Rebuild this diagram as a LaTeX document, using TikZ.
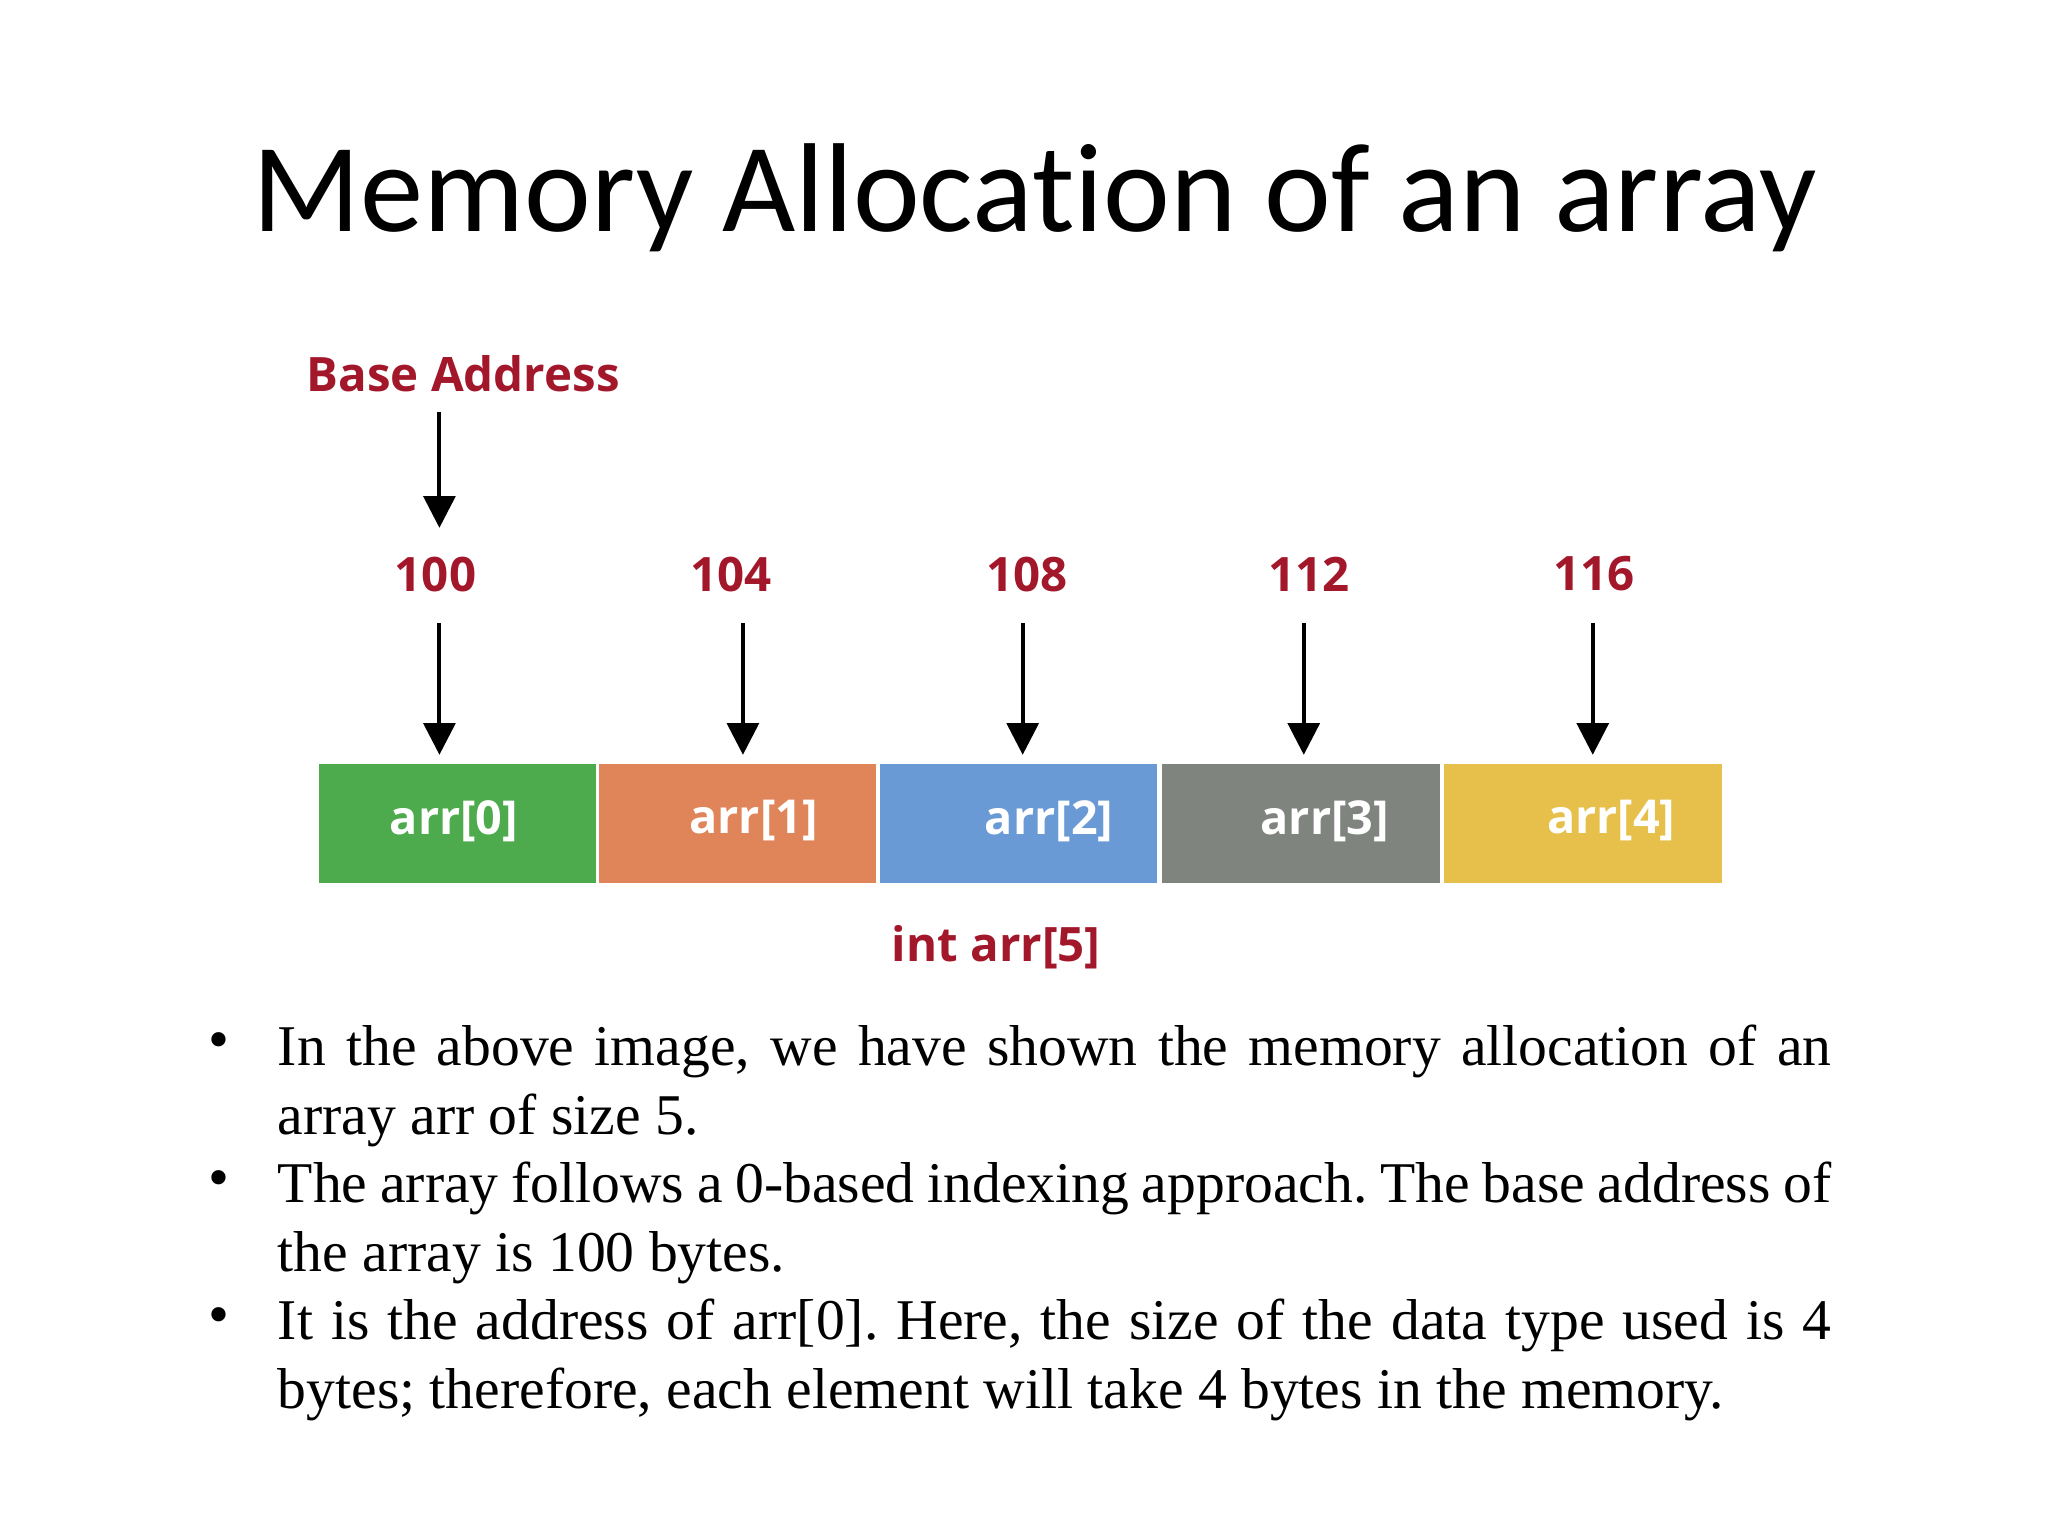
\documentclass[tikz,border=0pt]{standalone}
\usepackage{fontspec}
\setmainfont{Liberation Serif}
\newfontfamily\titlefont[Ligatures=NoCommon]{Carlito}
\newfontfamily\labfont{Open Sans}
\usetikzlibrary{arrows.meta}
\definecolor{dred}{HTML}{A3172B}
\definecolor{cgreen}{HTML}{4DAA4D}
\definecolor{corange}{HTML}{E0845A}
\definecolor{cblue}{HTML}{6A9AD6}
\definecolor{cgrey}{HTML}{80847F}
\definecolor{cyellow}{HTML}{E6C04A}
\frenchspacing
\hyphenpenalty=10000
\exhyphenpenalty=10000
\begin{document}
\begin{tikzpicture}[x=0.0132cm,y=-0.0132cm,
  addr/.style={font=\labfont\bfseries\fontsize{13.5}{16}\selectfont, text=dred},
  cell/.style={minimum width=0.0132cm*212, minimum height=0.0132cm*92, inner sep=0, draw=white, line width=0.6pt},
  celltext/.style={font=\labfont\bfseries\fontsize{13.3}{16}\selectfont, text=white},
  arr/.style={-{Triangle[length=9pt,width=9pt]}, line width=1.1pt},
  para/.style={anchor=north west, text width=15.54cm, align=justify, inner sep=0, font=\fontsize{16.4}{19.6}\selectfont},
  bul/.style={font=\fontsize{17}{20}\selectfont}]
\path[use as bounding box] (0,0) rectangle (1552,1164);
\node[font=\titlefont\fontsize{36}{44}\selectfont] (title) at (784,150) {Memory Allocation of an array};
\node[addr] (base) at (351,283) {Base Address};
\foreach \i/\x/\v/\ax in {0/330/100/333,1/554/104/563,2/778/108/775,3/992/112/988,4/1208/116/1207}{
  \node[addr] (a\i) at (\x,435) {\v};
  \coordinate (t\i) at (\ax,472);
  \coordinate (h\i) at (\ax,572);
  \draw[arr] (t\i) -- (h\i);
}
\coordinate (bt) at (333,312);
\coordinate (bh) at (333,400);
\draw[arr] (bt) -- (bh);
\node[cell, fill=cgreen, anchor=north west] (c0) at (240,577) {};
\node[cell, fill=corange, anchor=north west] (c1) at (452,577) {};
\node[cell, fill=cblue, anchor=north west] (c2) at (665,577) {};
\node[cell, fill=cgrey, anchor=north west] (c3) at (879,577) {};
\node[cell, fill=cyellow, anchor=north west] (c4) at (1093,577) {};
\node[celltext] (l0) at (344,622) {arr[0]};
\node[celltext] (l1) at (571,622) {arr[1]};
\node[celltext] (l2) at (795,622) {arr[2]};
\node[celltext] (l3) at (1004,622) {arr[3]};
\node[celltext] (l4) at (1221,622) {arr[4]};
\node[addr] (decl) at (755,718) {int arr[5]};
\node[bul] (b1) at (166,793) {\textbullet};
\node[bul] (b2) at (166,897) {\textbullet};
\node[bul] (b3) at (166,1001) {\textbullet};
\node[para] (p1) at (210,776) {In the above image, we have shown the memory allocation of an array arr of size 5.};
\node[para] (p2) at (210,880) {The array follows a 0-based indexing approach. The base address of the array is 100 bytes.};
\node[para] (p3) at (210,984) {It is the address of arr[0]. Here, the size of the data type used is 4 bytes; therefore, each element will take 4 bytes in the memory.};
\end{tikzpicture}
\end{document}
